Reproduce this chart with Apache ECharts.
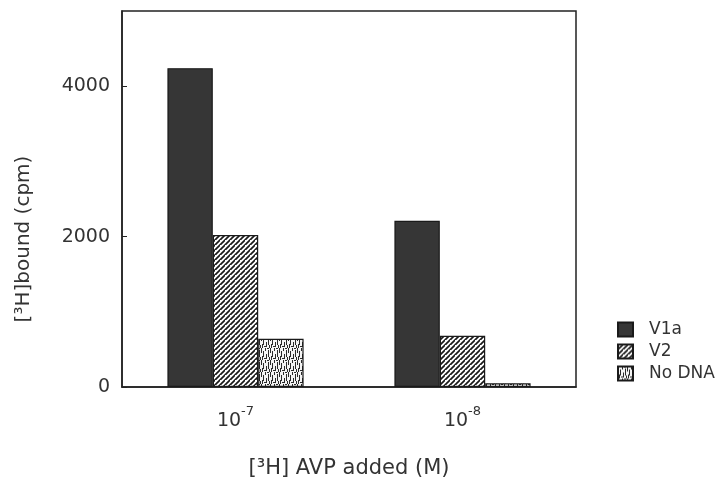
<!DOCTYPE html>
<html>
<head>
<meta charset="utf-8">
<script src="https://cdn.jsdelivr.net/npm/echarts@6/dist/echarts.min.js"></script>
<style>
  html, body { margin: 0; padding: 0; background: #fff; }
  #chart { width: 722px; height: 481px; }
</style>
</head>
<body>
<div id="chart"></div>
<script>
// exponents of the [3H]AVP concentration (10^x M)
var categories = ['-7', '-8'];
var seriesNames = ['V1a', 'V2', 'No DNA'];
var v1a = [4240, 2210];
var v2 = [2020, 680];
var noDna = [640, 50];
var yTicks = [0, 2000, 4000];

// fill patterns, scanned look
function hatchPattern() {
    var c = document.createElement('canvas');
    c.width = 5; c.height = 5;
    var ctx = c.getContext('2d');
    ctx.fillStyle = '#fff';
    ctx.fillRect(0, 0, 5, 5);
    ctx.strokeStyle = '#1a1a1a';
    ctx.lineWidth = 1.7;
    ctx.beginPath();
    ctx.moveTo(-1, 6); ctx.lineTo(6, -1);
    ctx.moveTo(-3.5, 2.5); ctx.lineTo(2.5, -3.5);
    ctx.moveTo(2.5, 7.5); ctx.lineTo(7.5, 2.5);
    ctx.stroke();
    return c;
}

function stipplePattern() {
    var c = document.createElement('canvas');
    c.width = 9; c.height = 12;
    var ctx = c.getContext('2d');
    ctx.fillStyle = '#f4f4f4';
    ctx.fillRect(0, 0, 9, 12);
    ctx.fillStyle = '#2a2a2a';
    // fixed streaks
    ctx.fillRect(0, 0, 1, 5);
    ctx.fillRect(2, 3, 1, 6);
    ctx.fillRect(4, 0, 1, 3);
    ctx.fillRect(5, 6, 1, 5);
    ctx.fillRect(7, 2, 1, 7);
    ctx.fillRect(1, 8, 1, 4);
    ctx.fillRect(3, 10, 2, 1);
    ctx.fillRect(6, 0, 2, 1);
    ctx.fillRect(8, 9, 1, 3);
    return c;
}

var fills = [
    '#363636',
    { image: hatchPattern(), repeat: 'repeat' },
    { image: stipplePattern(), repeat: 'repeat' }
];
var values = [v1a, v2, noDna];

var chart = echarts.init(document.getElementById('chart'));

var font = 'DejaVu Sans';
var option = {
    animation: false,
    textStyle: { fontFamily: font, color: '#333' },
    grid: {
        left: 122, right: 146, top: 11, bottom: 94,
        outerBoundsMode: 'none',
        show: true, borderColor: '#222', borderWidth: 1.5
    },
    legend: {
        orient: 'vertical',
        left: 612, top: 316,
        itemWidth: 15, itemHeight: 14, itemGap: 5,
        icon: 'rect',
        data: seriesNames,
        textStyle: { fontFamily: font, fontSize: 17, color: '#333', padding: [0, 0, 0, 11] }
    },
    xAxis: {
        type: 'category',
        data: categories,
        name: '[³H] AVP added (M)',
        nameLocation: 'middle',
        nameGap: 71,
        nameTextStyle: { fontFamily: font, fontSize: 21, color: '#333' },
        axisLine: { lineStyle: { color: '#222', width: 1.5 } },
        axisTick: { show: false },
        axisLabel: {
            margin: 18,
            formatter: function (v) { return '{b|10}{s|' + v + '}'; },
            rich: {
                b: { fontFamily: font, fontSize: 19, color: '#333', lineHeight: 26, verticalAlign: 'bottom' },
                s: { fontFamily: font, fontSize: 13, color: '#333', lineHeight: 26, verticalAlign: 'top' }
            }
        }
    },
    yAxis: {
        type: 'value',
        min: 0, max: 5000, interval: 2000,
        name: '[³H]bound (cpm)',
        nameLocation: 'middle',
        nameRotate: 90,
        nameGap: 88,
        nameTextStyle: { fontFamily: font, fontSize: 20, color: '#333', padding: [0, 80, 0, 0] },
        splitLine: { show: false },
        axisLine: { show: true, lineStyle: { color: '#222', width: 1.5 } },
        axisTick: { show: true, inside: true, length: 5, lineStyle: { color: '#222' } },
        axisLabel: {
            fontFamily: font, fontSize: 19, color: '#333', margin: 12, showMaxLabel: false,
            formatter: function (v) { return yTicks.indexOf(v) >= 0 ? String(v) : ''; }
        }
    },
    series: seriesNames.map(function (name, i) {
        return {
            name: name,
            type: 'bar',
            data: values[i],
            barGap: '0%',
            barCategoryGap: '40%',
            itemStyle: {
                color: fills[i],
                borderColor: '#1a1a1a',
                borderWidth: 1.2
            }
        };
    })
};

chart.setOption(option);
</script>
</body>
</html>
